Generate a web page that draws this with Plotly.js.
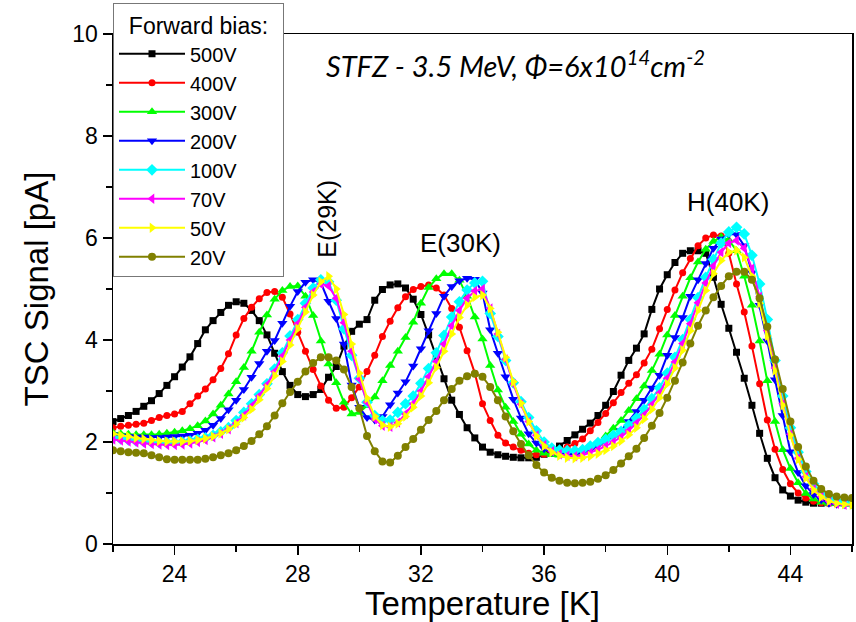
<!DOCTYPE html>
<html>
<head>
<meta charset="utf-8">
<script src="https://cdn.plot.ly/plotly-3.0.1.min.js"></script>
<style>html,body{margin:0;padding:0;background:#fff;}#chart{width:856px;height:622px;}</style>
</head>
<body>
<div id="chart"></div>
<script>
const temperature = [22.00,22.25,22.50,22.75,23.00,23.25,23.50,23.75,24.00,24.25,24.50,24.75,25.00,25.25,25.50,25.75,26.00,26.25,26.50,26.75,27.00,27.25,27.50,27.75,28.00,28.25,28.50,28.75,29.00,29.25,29.50,29.75,30.00,30.25,30.50,30.75,31.00,31.25,31.50,31.75,32.00,32.25,32.50,32.75,33.00,33.25,33.50,33.75,34.00,34.25,34.50,34.75,35.00,35.25,35.50,35.75,36.00,36.25,36.50,36.75,37.00,37.25,37.50,37.75,38.00,38.25,38.50,38.75,39.00,39.25,39.50,39.75,40.00,40.25,40.50,40.75,41.00,41.25,41.50,41.75,42.00,42.25,42.50,42.75,43.00,43.25,43.50,43.75,44.00,44.25,44.50,44.75,45.00,45.25,45.50,45.75,46.00];

const seriesNames = ["500V","400V","300V","200V","100V","70V","50V","20V"];

const v500 = [2.40,2.46,2.52,2.60,2.70,2.81,2.95,3.11,3.28,3.47,3.67,3.93,4.20,4.38,4.54,4.68,4.75,4.72,4.58,4.38,4.10,3.74,3.38,3.11,2.93,2.89,2.93,3.03,3.27,3.48,3.88,4.17,4.31,4.40,4.78,4.99,5.08,5.10,5.02,4.80,4.50,4.10,3.67,3.24,2.82,2.54,2.28,2.08,1.90,1.80,1.75,1.72,1.70,1.69,1.69,1.70,1.76,1.84,1.92,2.03,2.14,2.25,2.37,2.52,2.72,2.99,3.31,3.60,3.84,4.12,4.60,5.00,5.28,5.52,5.70,5.75,5.75,5.70,5.23,4.70,4.23,3.76,3.25,2.72,2.17,1.68,1.30,1.06,0.94,0.86,0.82,0.80,0.80,0.81,0.82,0.82,0.83];

const v400 = [2.28,2.31,2.33,2.35,2.37,2.42,2.48,2.52,2.55,2.60,2.75,2.90,3.04,3.22,3.44,3.73,4.10,4.42,4.64,4.81,4.93,4.95,4.84,4.51,4.15,3.78,3.42,3.10,2.82,2.66,2.68,2.87,3.08,3.38,3.70,4.07,4.37,4.63,4.85,4.99,5.05,5.08,5.02,4.88,4.62,4.25,3.79,3.35,2.75,2.42,2.13,1.98,1.90,1.84,1.78,1.75,1.76,1.79,1.84,1.90,1.97,2.06,2.22,2.38,2.56,2.77,2.97,3.15,3.32,3.55,3.82,4.22,4.60,4.98,5.32,5.60,5.85,6.00,6.06,6.04,5.70,5.10,4.55,3.88,3.14,2.43,1.86,1.46,1.18,1.00,0.90,0.84,0.81,0.80,0.79,0.79,0.78];

const v300 = [2.18,2.16,2.15,2.14,2.14,2.14,2.15,2.17,2.19,2.22,2.26,2.32,2.41,2.55,2.72,2.94,3.18,3.46,3.78,4.15,4.49,4.80,4.97,5.05,5.06,4.86,4.48,3.98,3.53,3.16,2.78,2.55,2.58,2.71,2.88,3.20,3.50,3.78,4.05,4.35,4.72,5.03,5.20,5.30,5.30,5.17,4.86,4.45,4.02,3.50,3.02,2.68,2.40,2.15,1.96,1.84,1.78,1.75,1.74,1.76,1.79,1.83,1.90,1.98,2.12,2.27,2.42,2.62,2.85,3.10,3.40,3.72,4.10,4.48,4.86,5.22,5.53,5.78,5.93,6.02,5.96,5.75,5.25,4.68,3.98,3.20,2.40,1.85,1.48,1.20,0.99,0.88,0.82,0.80,0.79,0.78,0.78];

const v200 = [2.14,2.12,2.11,2.10,2.10,2.09,2.09,2.10,2.11,2.12,2.13,2.17,2.23,2.33,2.46,2.63,2.82,3.03,3.27,3.54,3.78,3.99,4.33,4.66,4.95,5.13,5.18,5.12,4.76,4.42,3.92,3.12,2.68,2.48,2.43,2.50,2.73,2.96,3.18,3.49,3.83,4.18,4.52,4.86,5.05,5.16,5.21,5.19,4.92,4.20,3.74,3.28,2.84,2.47,2.16,1.98,1.87,1.80,1.76,1.75,1.77,1.79,1.85,1.93,2.01,2.10,2.22,2.40,2.60,2.82,3.06,3.31,3.70,4.05,4.44,4.86,5.18,5.50,5.80,5.98,6.08,6.07,5.85,5.32,4.68,3.98,3.22,2.52,1.81,1.40,1.14,0.97,0.87,0.80,0.78,0.77,0.77];

const v100 = [2.08,2.06,2.04,2.02,2.01,2.00,1.99,1.99,1.99,2.00,2.02,2.05,2.08,2.13,2.20,2.28,2.42,2.58,2.75,2.93,3.14,3.43,3.75,4.08,4.40,4.72,5.02,5.18,5.14,4.78,4.22,3.70,3.25,2.78,2.52,2.42,2.43,2.58,2.75,2.90,3.15,3.44,3.75,4.09,4.45,4.75,4.98,5.12,5.15,4.52,4.07,3.60,3.16,2.79,2.48,2.22,2.00,1.88,1.84,1.83,1.83,1.85,1.92,1.99,2.05,2.13,2.21,2.33,2.47,2.64,2.85,3.06,3.35,3.66,4.01,4.40,4.83,5.23,5.58,5.90,6.12,6.21,6.08,5.66,5.10,4.40,3.60,2.90,2.28,1.80,1.42,1.18,1.01,0.91,0.85,0.80,0.79];

const v70 = [2.05,2.03,2.01,1.99,1.97,1.96,1.95,1.94,1.94,1.95,1.97,2.00,2.04,2.09,2.16,2.25,2.37,2.52,2.70,2.90,3.12,3.38,3.68,4.00,4.32,4.64,4.94,5.10,5.06,4.82,4.34,3.78,3.24,2.78,2.45,2.32,2.30,2.38,2.55,2.75,3.00,3.28,3.58,3.92,4.28,4.58,4.82,4.96,5.00,4.62,4.12,3.62,3.14,2.74,2.40,2.13,1.94,1.82,1.76,1.73,1.72,1.74,1.79,1.85,1.92,2.00,2.10,2.22,2.37,2.53,2.73,2.96,3.25,3.57,3.93,4.32,4.73,5.12,5.45,5.72,5.90,5.95,5.80,5.40,4.85,4.18,3.45,2.75,2.15,1.68,1.32,1.08,0.93,0.84,0.79,0.77,0.76];

const v50 = [2.16,2.13,2.11,2.08,2.06,2.04,2.02,2.01,2.01,2.01,2.02,2.04,2.07,2.11,2.17,2.25,2.35,2.48,2.64,2.83,3.05,3.30,3.58,3.90,4.22,4.55,4.88,5.14,5.25,5.00,4.50,3.92,3.35,2.86,2.50,2.33,2.30,2.36,2.50,2.68,2.90,3.16,3.46,3.78,4.12,4.44,4.68,4.84,4.88,4.62,4.15,3.66,3.18,2.76,2.40,2.12,1.92,1.80,1.73,1.69,1.68,1.69,1.72,1.77,1.84,1.92,2.02,2.14,2.28,2.45,2.64,2.87,3.14,3.45,3.80,4.18,4.58,4.97,5.30,5.56,5.72,5.76,5.62,5.25,4.72,4.08,3.40,2.72,2.13,1.66,1.30,1.06,0.92,0.84,0.80,0.78,0.77];

const v20 = [1.84,1.82,1.80,1.79,1.78,1.74,1.70,1.66,1.65,1.65,1.65,1.65,1.67,1.70,1.74,1.78,1.84,1.92,2.02,2.15,2.31,2.52,2.76,2.98,3.18,3.38,3.55,3.66,3.66,3.60,3.42,3.08,2.66,2.12,1.82,1.62,1.60,1.73,1.90,2.06,2.24,2.43,2.61,2.82,3.04,3.20,3.29,3.34,3.28,3.08,2.82,2.50,2.21,1.96,1.74,1.55,1.40,1.30,1.24,1.20,1.19,1.20,1.22,1.28,1.35,1.45,1.58,1.72,1.87,2.08,2.32,2.57,2.87,3.20,3.56,3.93,4.28,4.58,4.84,5.06,5.25,5.34,5.34,5.18,4.82,4.26,3.62,3.04,2.40,1.90,1.52,1.24,1.08,0.98,0.93,0.91,0.90];

const seriesValues = [v500, v400, v300, v200, v100, v70, v50, v20];
const seriesColors = ["#000000","#FF0000","#00FF00","#0000FF","#00FFFF","#FF00FF","#FFFF00","#808000"];
const seriesSymbols = ["square","circle","triangle-up","triangle-down","diamond","triangle-left","triangle-right","circle"];
const seriesSizes = [7,7,9,9,9,9,9,8];

const xTickVals = [24,28,32,36,40,44];
const yTickVals = [0,2,4,6,8,10];

const traces = seriesNames.map((name, i) => ({
  type: "scatter",
  mode: "lines+markers",
  name: name,
  x: temperature,
  y: seriesValues[i],
  line: {color: seriesColors[i], width: 2},
  marker: {color: seriesColors[i], symbol: seriesSymbols[i], size: seriesSizes[i], line: {width: 0}}
}));

const baseFont = "Liberation Sans, Arial, sans-serif";

const layout = {
  width: 856,
  height: 622,
  paper_bgcolor: "#ffffff",
  plot_bgcolor: "#ffffff",
  margin: {l: 113, r: 4, t: 34, b: 78, autoexpand: false},
  font: {family: baseFont, color: "#000"},
  showlegend: true,
  legend: {
    x: 0, y: 1.06, xanchor: "left", yanchor: "top",
    bgcolor: "#ffffff", bordercolor: "#777777", borderwidth: 1,
    font: {family: baseFont, size: 20, color: "#000"},
    title: {text: "\u00a0\u00a0Forward bias:\u00a0\u00a0", side: "top center", font: {family: baseFont, size: 23, color: "#000"}},
    tracegroupgap: 0,
    itemwidth: 66
  },
  xaxis: {
    range: [22, 46],
    tickvals: xTickVals,
    ticktext: xTickVals.map(String),
    ticks: "outside", ticklen: 9, tickwidth: 1.5, tickcolor: "#000",
    minor: {tickvals: [22,26,30,34,38,42,46], ticks: "outside", ticklen: 6, tickwidth: 1.5, tickcolor: "#000"},
    showline: true, linewidth: 1.5, linecolor: "#000", mirror: true,
    showgrid: false, zeroline: false,
    tickfont: {family: baseFont, size: 23, color: "#000"},
    title: {text: "Temperature [K]", font: {family: baseFont, size: 33, color: "#000"}, standoff: 2}
  },
  yaxis: {
    range: [0, 10],
    tickvals: yTickVals,
    ticktext: yTickVals.map(String),
    ticks: "outside", ticklen: 9, tickwidth: 1.5, tickcolor: "#000",
    minor: {tickvals: [1,3,5,7,9], ticks: "outside", ticklen: 6, tickwidth: 1.5, tickcolor: "#000"},
    showline: true, linewidth: 1.5, linecolor: "#000", mirror: true,
    showgrid: false, zeroline: false,
    tickfont: {family: baseFont, size: 23, color: "#000"},
    title: {text: "TSC Signal [pA]", font: {family: baseFont, size: 33, color: "#000"}, standoff: 14}
  },
  annotations: [
    {x: 35.06, y: 9.42, xref: "x", yref: "y", showarrow: false,
     text: "<i>STFZ - 3.5 MeV, Φ=6x10<sup>14</sup>cm<sup>-2</sup></i>",
     font: {family: "Lato, Open Sans, sans-serif", size: 29, color: "#000"}},
    {x: 28.97, y: 6.37, xref: "x", yref: "y", showarrow: false, textangle: -90,
     text: "E(29K)", font: {family: baseFont, size: 25, color: "#000"}},
    {x: 33.28, y: 5.9, xref: "x", yref: "y", showarrow: false,
     text: "E(30K)", font: {family: baseFont, size: 26, color: "#000"}},
    {x: 41.97, y: 6.7, xref: "x", yref: "y", showarrow: false,
     text: "H(40K)", font: {family: baseFont, size: 26, color: "#000"}}
  ]
};

Plotly.newPlot("chart", traces, layout, {displayModeBar: false, staticPlot: true});
</script>
</body>
</html>
